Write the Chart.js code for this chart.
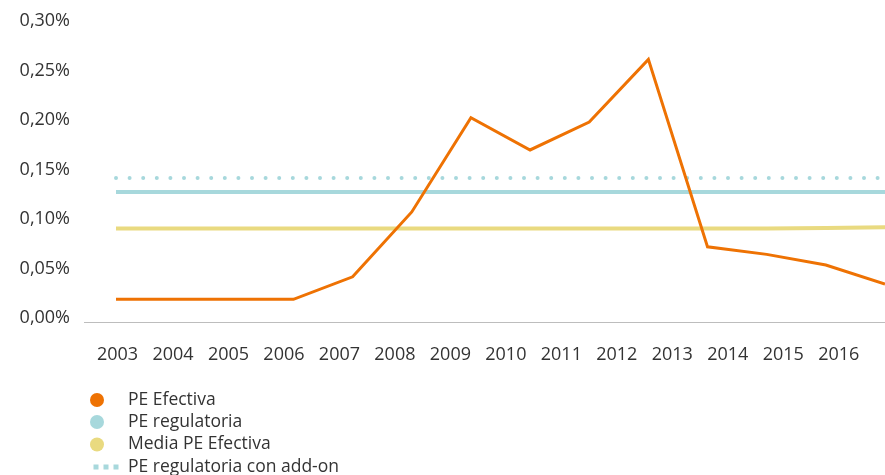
<!DOCTYPE html>
<html><head><meta charset="utf-8">
<script src="https://cdn.jsdelivr.net/npm/chart.js@4/dist/chart.umd.min.js"></script>
<style>html,body{margin:0;padding:0;background:#fff}</style>
</head><body>
<canvas id="c" width="885" height="475"></canvas>
<script>
// ---- data ----
const years = [2003, 2004, 2005, 2006, 2007, 2008, 2009, 2010, 2011, 2012, 2013, 2014, 2015, 2016];
const peEfectiva = [0.0232, 0.0232, 0.0232, 0.0232, 0.0459, 0.1113, 0.2064, 0.1738, 0.2020, 0.2651, 0.0761, 0.0685, 0.0577, 0.0386];
const peRegulatoria = [0.1315, 0.1315, 0.1315, 0.1315, 0.1315, 0.1315, 0.1315, 0.1315, 0.1315, 0.1315, 0.1315, 0.1315, 0.1315, 0.1315];
const mediaPeEfectiva = [0.0946, 0.0946, 0.0946, 0.0946, 0.0946, 0.0946, 0.0946, 0.0946, 0.0946, 0.0946, 0.0946, 0.0946, 0.0950, 0.0958];
const peRegulatoriaAddOn = [0.1456, 0.1456, 0.1456, 0.1456, 0.1456, 0.1456, 0.1456, 0.1456, 0.1456, 0.1456, 0.1456, 0.1456, 0.1456, 0.1456];
const yTicks = [0, 0.05, 0.10, 0.15, 0.20, 0.25, 0.30];
const seriesNames = ['PE Efectiva', 'PE regulatoria', 'Media PE Efectiva', 'PE regulatoria con add-on'];

const C_ORANGE = '#EE7203', C_BLUE = '#A7D8DC', C_YELLOW = '#E9DA80';
const FONT = '"Open Sans", "Noto Sans", sans-serif';
const toPts = arr => years.map((yr, i) => ({x: yr, y: arr[i]}));

const legendPlugin = {
  id: 'vlegend',
  afterDraw(chart) {
    const ctx = chart.ctx;
    const ds = chart.data.datasets;
    const rowsY = [400, 422, 444.5, 467];
    ctx.save();
    ctx.font = '17.5px ' + FONT;
    ctx.textBaseline = 'middle';
    ds.forEach((d, r) => {
      const y = rowsY[r];
      ctx.fillStyle = d.borderColor;
      if (d.legendDots) {
        [96, 106, 116].forEach(x => ctx.fillRect(x - 2.5, y - 2.5, 5, 5));
      } else {
        ctx.beginPath(); ctx.arc(97, y, 7, 0, Math.PI * 2); ctx.fill();
      }
      ctx.fillStyle = '#333';
      ctx.fillText(d.label, 128, y);
    });
    ctx.restore();
  }
};

new Chart(document.getElementById('c'), {
  type: 'line',
  data: {
    datasets: [
      {label: seriesNames[0], data: toPts(peEfectiva), borderColor: C_ORANGE, borderWidth: 3, xAxisID: 'xd', order: 0},
      {label: seriesNames[1], data: toPts(peRegulatoria), borderColor: C_BLUE, borderWidth: 4, xAxisID: 'xd', order: 2},
      {label: seriesNames[2], data: toPts(mediaPeEfectiva), borderColor: C_YELLOW, borderWidth: 4, xAxisID: 'xd', order: 3},
      {label: seriesNames[3], data: toPts(peRegulatoriaAddOn), borderColor: C_BLUE, borderWidth: 4, borderDash: [0, 13.6], borderCapStyle: 'round', xAxisID: 'xd', order: 1, legendDots: true}
    ]
  },
  options: {
    responsive: false,
    animation: false,
    devicePixelRatio: 1,
    elements: {point: {radius: 0}, line: {tension: 0, fill: false}},
    layout: {padding: {top: 24, right: 0, bottom: 102.7, left: 0}},
    plugins: {legend: {display: false}, tooltip: {enabled: false}},
    scales: {
      xd: {
        type: 'linear', display: false, min: 2002.459, max: 2016
      },
      x: {
        type: 'linear', position: 'bottom', min: 2002.396, max: 2016.834,
        afterBuildTicks: s => { s.ticks = years.map(v => ({value: v})); },
        afterFit: s => { s.height = 50; },
        grid: {display: false, drawTicks: false},
        border: {display: true, color: '#BDBDBD', width: 1},
        ticks: {padding: 22, maxRotation: 0, autoSkip: false, color: '#333', font: {family: FONT, size: 18}, callback: v => String(v)}
      },
      y: {
        type: 'linear', min: 0, max: 0.30,
        afterBuildTicks: s => { s.ticks = yTicks.map(v => ({value: v})); },
        afterFit: s => { s.width = 84; },
        grid: {display: false, drawTicks: false},
        border: {display: false},
        ticks: {padding: 14, labelOffset: -4, color: '#333', font: {family: FONT, size: 18},
          callback: v => v.toFixed(2).replace('.', ',') + '%'}
      }
    }
  },
  plugins: [legendPlugin]
});
</script>
</body></html>
